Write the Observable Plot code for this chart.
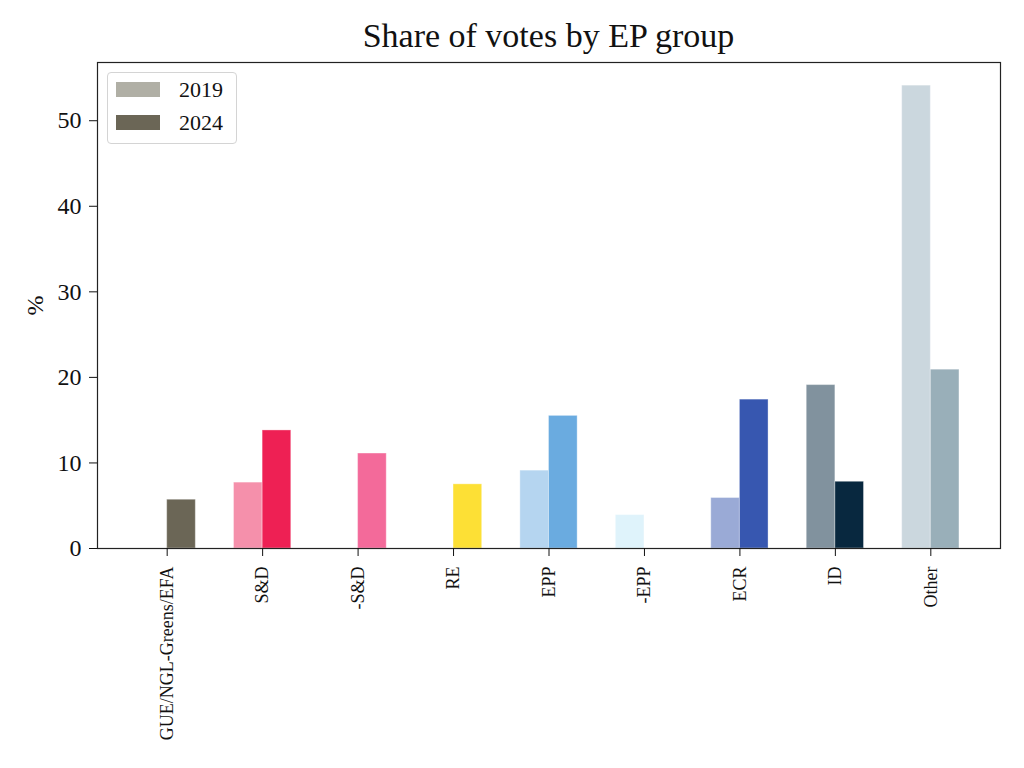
<!DOCTYPE html>
<html><head><meta charset="utf-8">
<script src="https://cdn.jsdelivr.net/npm/d3@7"></script>
<script src="https://cdn.jsdelivr.net/npm/@observablehq/plot@0.6"></script>
<style>
body{margin:0;background:#fff;}
#wrap{position:relative;width:1024px;height:768px;font-family:"Liberation Serif",serif;color:#111;}
#title{height:52px;position:relative;}
#title span{position:absolute;left:97px;width:903px;top:19px;text-align:center;font-size:34px;line-height:1;white-space:nowrap;}
#legend{position:absolute;left:107px;top:72px;width:128px;height:70px;border:1px solid #d4d4d4;border-radius:4px;background:rgba(255,255,255,0.85);}
.sw{position:absolute;left:8px;width:44px;height:15px;}
.lab{position:absolute;left:71px;font-size:22px;line-height:1;}
svg{display:block;}
</style></head>
<body><div id="wrap"><div id="title"><span>Share of votes by EP group</span></div><div id="chart"></div><div id="legend"></div></div>
<script>
const groups = ["GUE/NGL-Greens/EFA","S&D","-S&D","RE","EPP","-EPP","ECR","ID","Other"];
const years = ["2019","2024"];
const share2019 = [null, 7.7, null, null, 9.1, 3.9, 5.9, 19.1, 54.1];
const share2024 = [5.7, 13.8, 11.1, 7.5, 15.5, null, 17.4, 7.8, 20.9];
const colors2019 = ["#b0afa5","#f590ab","#f590ab","#fde8a0","#b5d5f0","#dff3fb","#9aaad6","#81929e","#cbd7de"];
const colors2024 = ["#6b6656","#ee2054","#f36a9a","#fde035","#6aabe0","#bfe4f5","#3757b0","#08283f","#99afb9"];
const legendColors = ["#b0afa5","#6b6656"];

const barWidth = 0.3;
const rows = [];
groups.forEach((g, i) => {
  if (share2019[i] != null) rows.push({i, x1: i - barWidth, x2: i, value: share2019[i], color: colors2019[i]});
  if (share2024[i] != null) rows.push({i, x1: i, x2: i + barWidth, value: share2024[i], color: colors2024[i]});
});
const xPad = (groups.length - 1 + 2 * barWidth) * 0.05;
const yMax = d3.max([...share2019, ...share2024]) * 1.05;

const plot = Plot.plot({
  width: 1024, height: 716,
  marginTop: 10, marginBottom: 220, marginLeft: 97, marginRight: 24,
  style: {fontFamily: "Liberation Serif, serif", fontSize: "20px", color: "#111", background: "transparent"},
  x: {type: "linear", domain: [-barWidth - xPad, groups.length - 1 + barWidth + xPad]},
  y: {domain: [0, yMax]},
  marks: [
    Plot.rect(rows, {x1: "x1", x2: "x2", y1: 0, y2: "value", fill: "color", stroke: "white", strokeOpacity: 0.35, strokeWidth: 1}),
    Plot.frame({stroke: "#222", strokeWidth: 1.2}),
    Plot.axisY({ticks: [0,10,20,30,40,50], tickSize: 8, tickPadding: 8, fontSize: 24, label: "%", labelAnchor: "center", labelArrow: false, labelOffset: 72}),
    Plot.axisX({ticks: d3.range(groups.length), tickFormat: i => groups[i], tickSize: 8, tickPadding: 10, tickRotate: -90, fontSize: 18, label: null})
  ]
});
document.getElementById("chart").appendChild(plot);

const leg = document.getElementById("legend");
years.forEach((y, k) => {
  const sw = document.createElement("div");
  sw.className = "sw"; sw.style.top = (9 + 33 * k) + "px"; sw.style.background = legendColors[k];
  const lab = document.createElement("div");
  lab.className = "lab"; lab.style.top = (6 + 33 * k) + "px"; lab.textContent = y;
  leg.appendChild(sw); leg.appendChild(lab);
});
</script></body></html>
